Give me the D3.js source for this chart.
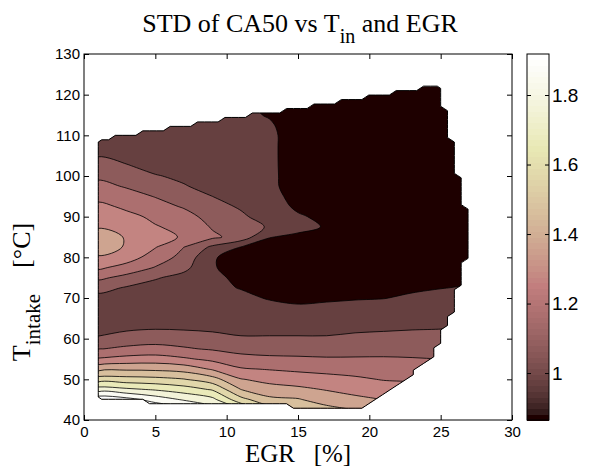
<!DOCTYPE html>
<html>
<head>
<meta charset="utf-8">
<script src="https://cdn.jsdelivr.net/npm/d3@7"></script>
<style>
  body { margin: 0; background: #fff; }
  svg { display: block; }
</style>
</head>
<body>
<div id="chart"></div>
<script>
// grid the STD of CA50 was sampled on
const EGR = [1, 3, 5, 7, 9, 11, 13, 15, 17, 19, 21, 23, 25, 27, 29];
const TIN = d3.range(42.5, 123, 2.5);

// STD[row][col]: one row per TIN value, one column per EGR value
const STD = [
  [2.20, 2.15, 2.00, 1.95, 1.85, 1.72, 1.55, 1.48, 1.44, 1.40, 1.36, 1.33, 1.30, 1.28, 1.28],
  [1.98, 1.94, 1.86, 1.79, 1.73, 1.535, 1.425, 1.41, 1.35, 1.33, 1.30, 1.29, 1.27, 1.25, 1.25],
  [1.75, 1.72, 1.69, 1.65, 1.59, 1.40, 1.34, 1.32, 1.295, 1.26, 1.245, 1.235, 1.23, 1.22, 1.22],
  [1.55, 1.54, 1.53, 1.505, 1.44, 1.305, 1.27, 1.255, 1.235, 1.215, 1.195, 1.19, 1.185, 1.18, 1.18],
  [1.37, 1.385, 1.38, 1.36, 1.29, 1.21, 1.195, 1.18, 1.17, 1.165, 1.15, 1.145, 1.14, 1.14, 1.14],
  [1.21, 1.235, 1.245, 1.215, 1.175, 1.135, 1.12, 1.115, 1.11, 1.11, 1.11, 1.105, 1.10, 1.10, 1.10],
  [1.095, 1.12, 1.13, 1.11, 1.09, 1.065, 1.06, 1.06, 1.055, 1.06, 1.065, 1.07, 1.07, 1.07, 1.07],
  [1.01, 1.045, 1.06, 1.055, 1.03, 1.01, 1.01, 1.01, 1.01, 1.02, 1.025, 1.03, 1.035, 1.04, 1.04],
  [0.97, 0.985, 0.995, 0.99, 0.985, 0.975, 0.975, 0.975, 0.975, 0.985, 0.99, 0.995, 0.998, 1.01, 1.01],
  [0.95, 0.955, 0.955, 0.945, 0.95, 0.945, 0.945, 0.94, 0.945, 0.95, 0.955, 0.965, 0.97, 0.98, 0.98],
  [0.95, 0.945, 0.94, 0.93, 0.93, 0.925, 0.92, 0.91, 0.915, 0.92, 0.925, 0.935, 0.945, 0.955, 0.955],
  [0.97, 0.955, 0.94, 0.925, 0.92, 0.915, 0.895, 0.885, 0.89, 0.895, 0.898, 0.91, 0.92, 0.93, 0.93],
  [1.035, 0.99, 0.96, 0.935, 0.915, 0.897, 0.875, 0.87, 0.872, 0.875, 0.88, 0.89, 0.898, 0.905, 0.905],
  [1.12, 1.07, 1.01, 0.965, 0.915, 0.885, 0.87, 0.865, 0.865, 0.865, 0.87, 0.875, 0.88, 0.885, 0.885],
  [1.22, 1.16, 1.095, 1.03, 0.905, 0.875, 0.868, 0.863, 0.862, 0.863, 0.865, 0.868, 0.87, 0.872, 0.872],
  [1.29, 1.25, 1.15, 1.07, 0.905, 0.878, 0.87, 0.865, 0.862, 0.863, 0.865, 0.868, 0.87, 0.872, 0.872],
  [1.35, 1.29, 1.205, 1.10, 0.98, 0.897, 0.88, 0.87, 0.863, 0.863, 0.865, 0.868, 0.87, 0.872, 0.872],
  [1.36, 1.29, 1.235, 1.19, 1.12, 1.06, 0.902, 0.89, 0.868, 0.863, 0.865, 0.868, 0.87, 0.872, 0.872],
  [1.29, 1.25, 1.205, 1.18, 1.09, 1.045, 0.99, 0.915, 0.896, 0.865, 0.865, 0.868, 0.87, 0.872, 0.872],
  [1.25, 1.22, 1.185, 1.14, 1.06, 1.015, 0.96, 0.91, 0.88, 0.865, 0.865, 0.868, 0.87, 0.872, 0.872],
  [1.22, 1.185, 1.14, 1.09, 1.03, 0.99, 0.94, 0.885, 0.868, 0.864, 0.865, 0.868, 0.87, 0.872, 0.872],
  [1.175, 1.14, 1.095, 1.05, 1.0, 0.97, 0.925, 0.875, 0.865, 0.864, 0.865, 0.868, 0.87, 0.872, 0.872],
  [1.13, 1.09, 1.05, 1.005, 0.975, 0.955, 0.915, 0.87, 0.864, 0.864, 0.865, 0.868, 0.87, 0.872, 0.872],
  [1.08, 1.045, 1.005, 0.985, 0.955, 0.945, 0.915, 0.868, 0.864, 0.864, 0.865, 0.868, 0.87, 0.872, 0.872],
  [1.04, 1.005, 0.975, 0.955, 0.945, 0.94, 0.915, 0.866, 0.864, 0.864, 0.865, 0.868, 0.87, 0.872, 0.872],
  [0.995, 0.975, 0.955, 0.945, 0.94, 0.935, 0.915, 0.865, 0.864, 0.864, 0.865, 0.868, 0.87, 0.872, 0.872],
  [0.965, 0.955, 0.945, 0.94, 0.935, 0.93, 0.915, 0.865, 0.864, 0.864, 0.865, 0.868, 0.87, 0.872, 0.872],
  [0.95, 0.945, 0.94, 0.935, 0.93, 0.925, 0.915, 0.865, 0.864, 0.864, 0.865, 0.868, 0.87, 0.872, 0.872],
  [0.94, 0.94, 0.935, 0.93, 0.925, 0.92, 0.908, 0.865, 0.864, 0.864, 0.865, 0.868, 0.87, 0.872, 0.872],
  [0.935, 0.935, 0.93, 0.925, 0.92, 0.915, 0.895, 0.865, 0.864, 0.864, 0.865, 0.868, 0.87, 0.872, 0.872],
  [0.93, 0.93, 0.93, 0.925, 0.915, 0.91, 0.89, 0.865, 0.864, 0.864, 0.865, 0.868, 0.87, 0.872, 0.872],
  [0.93, 0.93, 0.93, 0.925, 0.915, 0.91, 0.885, 0.865, 0.864, 0.864, 0.865, 0.868, 0.87, 0.872, 0.872],
  [0.93, 0.93, 0.93, 0.925, 0.915, 0.91, 0.885, 0.865, 0.864, 0.864, 0.865, 0.868, 0.87, 0.872, 0.872]
];

// outline of the measured region (data outside it is NaN)
const HULL_EGR = [0.95, 0.95, 24.9, 26.75, 27.0, 26.7, 26.2, 25.7, 24.3, 19.7];
const HULL_TIN = [44.9, 108.9, 122.3, 91.0, 86.0, 80.0, 72.3, 65.8, 54.9, 42.85];
const MASK_ORIGIN = [1, 42.9];
const MASK_STEP = [0.48, 1.1];

const LEVELS = [0.9, 1.0, 1.1, 1.2, 1.3, 1.4, 1.5, 1.6, 1.7, 1.8, 1.9];
const C_LIM = [0.865, 1.918];
const X_DOMAIN = [0, 30], Y_DOMAIN = [40, 130];
const X_TICKS = [0, 5, 10, 15, 20, 25, 30];
const Y_TICKS = [40, 50, 60, 70, 80, 90, 100, 110, 120, 130];
const CB_TICKS = [1, 1.2, 1.4, 1.6, 1.8];

const W = 592, H = 470;
const N_COLORS = 64;
const BAND_SHIFT = 0.065;
const SERIF = "'Liberation Serif', 'Times New Roman', serif";
const SANS = "'Liberation Sans', Arial, Helvetica, sans-serif";

// matlab "pink" colormap, i = 1..64
function pinkColor(i) {
  const n = Math.floor(3 / 8 * N_COLORS);
  const hot = [
    Math.min(1, i / n),
    Math.min(1, Math.max(0, (i - n) / n)),
    Math.max(0, (i - 2 * n) / (N_COLORS - 2 * n))
  ];
  const g = (i - 1) / (N_COLORS - 1);
  const [r, gg, b] = hot.map(h => Math.round(255 * Math.sqrt((2 * g + h) / 3)));
  return d3.rgb(r, gg, b).formatHex();
}
function colorAt(v) {
  const t = (v - C_LIM[0]) / (C_LIM[1] - C_LIM[0]);
  return pinkColor(Math.max(1, Math.min(N_COLORS, Math.floor(t * N_COLORS) + 1)));
}

const svg = d3.select("#chart").append("svg")
  .attr("width", W).attr("height", H)
  .attr("viewBox", `0 0 ${W} ${H}`);

svg.append("rect").attr("width", W).attr("height", H).attr("fill", "#fff");

const x = d3.scaleLinear().domain(X_DOMAIN).range([84, 512]);
const y = d3.scaleLinear().domain(Y_DOMAIN).range([420, 54]);

// ---- mask of the measured region, rasterised like the source grid
const hull = HULL_EGR.map((e, i) => [e, HULL_TIN[i]]);
const mCols = d3.range(-2, 60), mRows = d3.range(-2, 78);
const mEgr = i => MASK_ORIGIN[0] + (i + 0.5) * MASK_STEP[0];
const mTin = j => MASK_ORIGIN[1] + (j + 0.5) * MASK_STEP[1];
const maskVals = [];
mRows.forEach(j => mCols.forEach(i => {
  maskVals.push(d3.polygonContains(hull, [mEgr(i), mTin(j)]) ? 1 : 0);
}));
const mask = d3.contours().size([mCols.length, mRows.length]).thresholds([0.5])(maskVals)[0];
const mgx = d3.scaleLinear().domain([0.5, mCols.length - 0.5]).range([mEgr(mCols[0]), mEgr(mCols[mCols.length - 1])]);
const mgy = d3.scaleLinear().domain([0.5, mRows.length - 0.5]).range([mTin(mRows[0]), mTin(mRows[mRows.length - 1])]);

const maskLine = d3.line().x(p => x(mgx(p[0]))).y(p => y(mgy(p[1]))).curve(d3.curveLinearClosed);
const hullD = mask.coordinates.flatMap(poly => poly.map(r => maskLine(r.slice(0, -1)))).join("");

svg.append("defs").append("clipPath").attr("id", "hull-clip")
  .append("path").attr("d", hullD);

// ---- filled contours
const gx = d3.scaleLinear().domain([0.5, EGR.length - 0.5]).range([EGR[0], EGR[EGR.length - 1]]);
const gy = d3.scaleLinear().domain([0.5, TIN.length - 0.5]).range([TIN[0], TIN[TIN.length - 1]]);
const bands = d3.contours().size([EGR.length, TIN.length]).thresholds(LEVELS)(STD.flat());

const ringLine = d3.line().x(p => x(gx(p[0]))).y(p => y(gy(p[1])))
  .curve(d3.curveCatmullRomClosed.alpha(0.5));
const bandPath = c => c.coordinates.flatMap(poly => poly.map(r => ringLine(r.slice(0, -1)))).join("");

const plot = svg.append("g").attr("clip-path", "url(#hull-clip)");
plot.append("path").attr("d", hullD).attr("fill", colorAt(C_LIM[0]));
plot.selectAll("path.band")
  .data(bands.filter(b => b.coordinates.length))
  .join("path")
  .attr("class", "band")
  .attr("d", bandPath)
  .attr("fill-rule", "evenodd")
  .attr("fill", d => colorAt(d.value + BAND_SHIFT))
  .attr("stroke", "#000")
  .attr("stroke-width", 0.8)
  .attr("stroke-linejoin", "round");

svg.append("path").attr("d", hullD)
  .attr("fill", "none").attr("stroke", "#000").attr("stroke-width", 1);

// ---- axes box with inward ticks on all sides
const styleAxis = g => {
  g.select(".domain").remove();
  g.attr("font-family", SANS).attr("font-size", 15);
  g.selectAll(".tick line").attr("stroke", "#000");
  g.selectAll(".tick text").attr("fill", "#000");
};
svg.append("g").attr("transform", `translate(0,${y(Y_DOMAIN[0])})`)
  .call(d3.axisBottom(x).tickValues(X_TICKS).tickSize(-5).tickPadding(6).tickFormat(d3.format("d")))
  .call(styleAxis);
svg.append("g").attr("transform", `translate(0,${y(Y_DOMAIN[1])})`)
  .call(d3.axisTop(x).tickValues(X_TICKS).tickSize(-5).tickFormat(() => ""))
  .call(styleAxis);
svg.append("g").attr("transform", `translate(${x(X_DOMAIN[0])},0)`)
  .call(d3.axisLeft(y).tickValues(Y_TICKS).tickSize(-5).tickPadding(4).tickFormat(d3.format("d")))
  .call(styleAxis);
svg.append("g").attr("transform", `translate(${x(X_DOMAIN[1])},0)`)
  .call(d3.axisRight(y).tickValues(Y_TICKS).tickSize(-5).tickFormat(() => ""))
  .call(styleAxis);
svg.append("rect")
  .attr("x", x(X_DOMAIN[0])).attr("y", y(Y_DOMAIN[1]))
  .attr("width", x(X_DOMAIN[1]) - x(X_DOMAIN[0]))
  .attr("height", y(Y_DOMAIN[0]) - y(Y_DOMAIN[1]))
  .attr("fill", "none").attr("stroke", "#000").attr("stroke-width", 1);

// ---- colorbar
const cbL = 527, cbR = 549;
const cy = d3.scaleLinear().domain(C_LIM).range([420, 54]);
const step = (C_LIM[1] - C_LIM[0]) / N_COLORS;
svg.append("g").selectAll("rect")
  .data(d3.range(N_COLORS))
  .join("rect")
  .attr("x", cbL).attr("width", cbR - cbL)
  .attr("y", i => cy(C_LIM[0] + (i + 1) * step))
  .attr("height", i => cy(C_LIM[0] + i * step) - cy(C_LIM[0] + (i + 1) * step) + 0.5)
  .attr("fill", i => pinkColor(i + 1))
  .attr("shape-rendering", "crispEdges");
svg.append("g").attr("transform", `translate(${cbR},0)`)
  .call(d3.axisRight(cy).tickValues(CB_TICKS).tickSize(-4).tickPadding(3).tickFormat(d => d))
  .call(styleAxis)
  .attr("font-size", 19);
svg.append("g").attr("transform", `translate(${cbL},0)`)
  .call(d3.axisLeft(cy).tickValues(CB_TICKS).tickSize(-4).tickFormat(() => ""))
  .call(styleAxis);
svg.append("rect")
  .attr("x", cbL).attr("y", cy(C_LIM[1]))
  .attr("width", cbR - cbL).attr("height", cy(C_LIM[0]) - cy(C_LIM[1]))
  .attr("fill", "none").attr("stroke", "#000").attr("stroke-width", 1);

// ---- title and labels
const title = svg.append("text")
  .attr("x", 300).attr("y", 32)
  .attr("text-anchor", "middle")
  .attr("font-family", SERIF).attr("font-size", 26);
title.append("tspan").text("STD of CA50 vs T");
title.append("tspan").attr("font-size", 20).attr("dy", 11).text("in");
title.append("tspan").attr("dy", -11).text(" and EGR");

svg.append("text")
  .attr("x", 298).attr("y", 462)
  .attr("text-anchor", "middle")
  .attr("font-family", SERIF).attr("font-size", 25)
  .style("white-space", "pre")
  .text("EGR   [%]");

const ylab = svg.append("text")
  .attr("transform", "translate(30,292) rotate(-90)")
  .attr("text-anchor", "middle")
  .attr("font-family", SERIF).attr("font-size", 26)
  .style("white-space", "pre");
ylab.append("tspan").text("T");
ylab.append("tspan").attr("font-size", 21).attr("dy", 10).text("intake");
ylab.append("tspan").attr("dy", -10).text("    [°C]");
</script>
</body>
</html>
